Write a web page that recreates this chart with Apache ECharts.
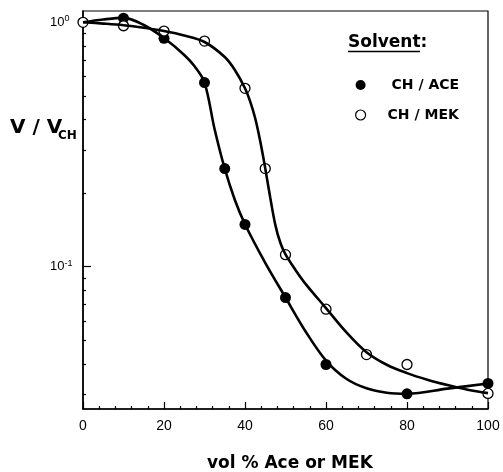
<!DOCTYPE html>
<html><head><meta charset="utf-8">
<script src="https://cdn.jsdelivr.net/npm/echarts@6/dist/echarts.min.js"></script>
<style>html,body{margin:0;padding:0;background:#fff}#c{width:503px;height:472px}</style>
</head><body><div id="c"></div>
<script>
// measured points
const aceX = [10, 20, 30, 35, 40, 50, 60, 80, 100];
const aceY = [1.04, 0.86, 0.567, 0.252, 0.149, 0.0748, 0.0398, 0.0302, 0.0333];
const mekX = [0, 10, 20, 30, 40, 45, 50, 60, 70, 80, 100];
const mekY = [1.0, 0.968, 0.921, 0.838, 0.537, 0.252, 0.112, 0.067, 0.0437, 0.0398, 0.0303];
// fitted curves
const aceCurveX = [0, 5, 10, 15, 20, 25, 27.5, 30, 32.5, 35, 37.5, 40, 45, 50, 55, 60, 65, 70, 75, 80, 90, 100];
const aceCurveY = [1.0, 1.027, 1.043, 0.975, 0.862, 0.735, 0.662, 0.567, 0.365, 0.2517, 0.1875, 0.1492, 0.1037, 0.0748, 0.0542, 0.0413, 0.0348, 0.0318, 0.0305, 0.0302, 0.0317, 0.0333];
const mekCurveX = [0, 5, 10, 15, 20, 25, 30, 35, 37.5, 40, 41.25, 42.5, 43.75, 45, 46.25, 47.5, 48.75, 50, 52.5, 55, 60, 65, 70, 75, 80, 85, 90, 95, 100];
const mekCurveY = [1.0, 0.988, 0.973, 0.950, 0.921, 0.883, 0.8305, 0.721, 0.638, 0.537, 0.476, 0.406, 0.327, 0.2525, 0.191, 0.148, 0.125, 0.1123, 0.0968, 0.0849, 0.0677, 0.054, 0.0447, 0.0397, 0.0367, 0.0345, 0.0328, 0.0314, 0.0304];
// axis ticks
const yMajor = [0.1, 1];
const yMinor = [0.03, 0.04, 0.05, 0.06, 0.07, 0.08, 0.09, 0.2, 0.3, 0.4, 0.5, 0.6, 0.7, 0.8, 0.9];
const yLabels = {'0.1': '{b|10}{s|-1}', '1': '{b|10}{s|0}'};
const seriesNames = ['CH / ACE', 'CH / MEK'];
const xName = 'vol % Ace or MEK';

const zip = (xs, ys) => xs.map((x, i) => [x, ys[i]]);
const chart = echarts.init(document.getElementById('c'), null, {renderer: 'canvas'});
const yBase = {type: 'log', min: 0.02617, max: 1.1124, gridIndex: 0, position: 'left', splitLine: {show: false}};
chart.setOption({
  animation: false,
  backgroundColor: '#fff',
  grid: {left: 83, right: 15, top: 11, bottom: 63, show: true, borderColor: '#000', borderWidth: 1.2, backgroundColor: 'transparent'},
  xAxis: {
    type: 'value', min: 0, max: 100, interval: 20,
    axisLine: {lineStyle: {color: '#000', width: 1.6}},
    axisTick: {inside: true, length: 7, lineStyle: {color: '#000', width: 1.2}},
    minorTick: {show: true, splitNumber: 5, length: 3, lineStyle: {color: '#000', width: 1.2}},
    splitLine: {show: false},
    axisLabel: {margin: 10, color: '#000', fontFamily: 'Liberation Sans', fontSize: 14}
  },
  yAxis: [
    Object.assign({}, yBase, {
      axisLine: {show: true, lineStyle: {color: '#000', width: 1.6}},
      axisTick: {show: true, inside: true, length: 8, customValues: yMajor, lineStyle: {color: '#000', width: 1.2}},
      axisLabel: {
        show: true, customValues: yMajor, align: 'left', margin: 33,
        formatter: v => yLabels[String(+v.toPrecision(3))] || '',
        rich: {
          b: {fontFamily: 'Liberation Sans', fontSize: 13, color: '#000', lineHeight: 16},
          s: {fontFamily: 'Liberation Sans', fontSize: 9, color: '#000', lineHeight: 10, verticalAlign: 'top'}
        }
      }
    }),
    Object.assign({}, yBase, {
      axisLine: {show: false},
      axisTick: {show: true, inside: true, length: 3, customValues: yMinor, lineStyle: {color: '#000', width: 1.2}},
      axisLabel: {show: false}
    })
  ],
  legend: {
    orient: 'vertical', left: 355, top: 78, padding: 0, itemWidth: 10, itemHeight: 10, itemGap: 16,
    textStyle: {fontFamily: 'DejaVu Sans', fontWeight: 'bold', fontSize: 14, color: '#000'},
    data: [
      {name: seriesNames[0], icon: 'circle', itemStyle: {color: '#000', opacity: 1}, textStyle: {padding: [0, 0, 0, 21]}},
      {name: seriesNames[1], icon: 'circle', itemStyle: {color: '#fff', borderColor: '#000', borderWidth: 1.2, opacity: 1}, textStyle: {padding: [0, 0, 0, 17]}}
    ]
  },
  series: [
    {name: seriesNames[0], type: 'scatter', symbol: 'circle', symbolSize: 11, data: zip(aceX, aceY),
     itemStyle: {color: '#000', opacity: 1}, z: 2},
    {name: seriesNames[1], type: 'scatter', symbol: 'circle', symbolSize: 10, data: zip(mekX, mekY),
     itemStyle: {color: '#fff', borderColor: '#000', borderWidth: 1.3, opacity: 1}, z: 3},
    {name: 'ACE fit', type: 'line', smooth: 0.35, symbol: 'none', data: zip(aceCurveX, aceCurveY),
     lineStyle: {color: '#000', width: 2.6}, z: 4},
    {name: 'MEK fit', type: 'line', smooth: 0.35, symbol: 'none', data: zip(mekCurveX, mekCurveY),
     lineStyle: {color: '#000', width: 2.6}, z: 4}
  ],
  graphic: [
    {type: 'text', left: 10, top: 118, style: {text: 'V / V', font: 'bold 20px "DejaVu Sans"', fill: '#000'}},
    {type: 'text', left: 58, top: 130, style: {text: 'CH', font: 'bold 12px "DejaVu Sans"', fill: '#000'}},
    {type: 'text', left: 348, top: 34, style: {text: 'Solvent:', font: 'bold 17px "DejaVu Sans"', fill: '#000'}},
    {type: 'line', shape: {x1: 348, y1: 51.5, x2: 420, y2: 51.5}, style: {stroke: '#000', lineWidth: 1.6}},
    {type: 'text', left: 207, top: 455, style: {text: xName, font: 'bold 17px "DejaVu Sans"', fill: '#000'}}
  ]
});
</script></body></html>
